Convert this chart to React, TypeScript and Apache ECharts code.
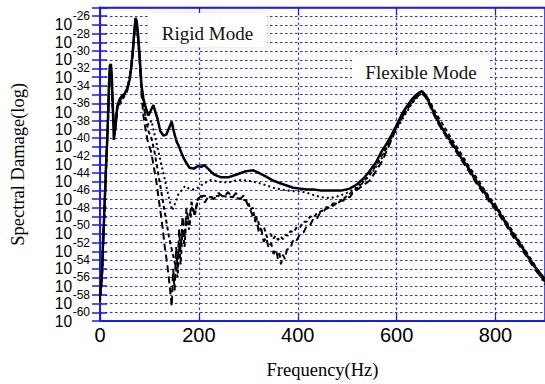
import React, { useEffect, useRef } from "react";
import * as echarts from "echarts";

// Frequency (Hz) and log10(Spectral Damage) for each curve
const solidFreq = [0, 2, 4, 6, 8, 10, 12, 14, 16, 18, 20, 22, 24, 26, 28, 31, 35, 40, 45, 50, 55, 60, 64, 67, 70, 72, 74, 77, 80, 84, 88, 93, 98, 103, 108, 112, 116, 122, 128, 134, 140, 145, 150, 155, 160, 166, 172, 181, 190, 198, 205, 211, 220, 231, 245, 259, 275, 295, 310, 321, 335, 351, 370, 391, 405, 419, 432, 445, 460, 475, 490, 505, 520, 535, 545, 558, 570, 580, 590, 600, 611, 620, 630, 638, 645, 651, 660, 671, 685, 700, 715, 731, 745, 760, 775, 790, 805, 820, 835, 850, 865, 880, 900];
const solidLog = [-57, -56, -54.5, -51, -48.5, -45.5, -42.5, -40, -37, -33, -30.7, -30.5, -32, -35.5, -39.2, -37.8, -35.3, -34.5, -34.1, -33.9, -33.3, -32.3, -30.5, -28.5, -26.3, -25.2, -25.5, -27, -29.5, -33, -34.5, -35.6, -36.4, -35.8, -35.2, -36, -36.7, -38.2, -38.7, -38.6, -37.8, -37.1, -38.4, -39.4, -40, -40.9, -41.6, -42.4, -42.5, -42.2, -42.3, -42.1, -42.6, -43.2, -43.5, -43.5, -43.2, -42.8, -42.7, -43, -43.4, -43.9, -44.3, -44.7, -44.8, -44.9, -44.9, -45, -45, -45, -45, -44.8, -44.3, -43.5, -42.8, -41.8, -40.5, -39.6, -38.6, -37.5, -36.2, -35.4, -34.6, -34.1, -33.8, -33.6, -34.2, -35.6, -37.2, -38.6, -39.8, -41.3, -42.4, -43.9, -45, -46.3, -47.3, -48.7, -50, -51.2, -52.6, -53.8, -55.2];

const dashAFreq = [0, 4, 8, 12, 16, 20, 22, 26, 30, 35, 45, 55, 62, 67, 70, 72, 75, 80, 84, 88, 92, 97, 103, 108, 114, 120, 126, 131, 136, 141, 145, 148, 151, 154, 157, 160, 163, 167, 171, 175, 180, 185, 191, 198, 205, 212, 220, 230, 240, 250, 259, 268, 275, 283, 291, 300, 306, 311, 316, 321, 326, 331, 336, 341, 346, 351, 356, 360, 363, 366, 370, 374, 378, 385, 390, 395, 405, 412, 418, 425, 431, 438, 445, 452, 458, 465, 471, 478, 485, 492, 498, 505, 511, 528, 545, 558, 571, 585, 598, 611, 625, 638, 651, 660, 671, 685, 700, 715, 731, 745, 760, 775, 790, 805, 820, 835, 850, 865, 880, 900];
const dashALog = [-57.5, -54.8, -48.8, -42.8, -37.2, -30.8, -30.5, -35.8, -38.5, -35.5, -34.3, -33.5, -31.4, -28.7, -26.6, -25.4, -26.4, -29.5, -34, -36.5, -38, -39.5, -40.5, -42, -44, -46.5, -49, -51.5, -53.5, -56, -58.3, -54, -56.5, -51.5, -54, -49.5, -52, -48, -50.5, -47, -49, -46.3, -47.8, -46, -45.6, -46.4, -45.6, -46, -45.3, -45.8, -45.2, -45.8, -45.3, -46, -45.6, -46.8, -47.5, -48.3, -48, -49.8, -49.4, -50.9, -50.4, -51.6, -51, -52.3, -51.8, -52.9, -52.2, -53.5, -52.4, -52.9, -51.8, -51.7, -50.8, -51, -50, -49.8, -49.1, -49, -48.3, -48.3, -47.6, -47.5, -46.9, -47, -46.5, -46.5, -46.1, -46.2, -45.7, -45.8, -45.3, -44.6, -43.9, -42.8, -41.6, -39.8, -38, -36.6, -35.3, -34.4, -33.8, -34.4, -35.8, -37.4, -38.8, -40.1, -41.5, -42.7, -44.1, -45.3, -46.5, -47.6, -48.9, -50.3, -51.5, -52.8, -54.1, -55.5];

const dashBFreq = [0, 4, 8, 12, 16, 20, 22, 26, 30, 35, 45, 55, 62, 67, 70, 72, 75, 80, 84, 88, 93, 98, 104, 110, 116, 122, 128, 134, 140, 146, 152, 157, 160, 163, 167, 171, 175, 180, 186, 192, 198, 210, 225, 240, 255, 271, 285, 299, 304, 309, 314, 319, 325, 332, 338, 345, 350, 355, 360, 365, 370, 375, 380, 385, 392, 398, 405, 411, 418, 425, 432, 439, 455, 470, 485, 500, 515, 530, 545, 560, 575, 590, 605, 620, 635, 648, 656, 665, 680, 695, 710, 725, 740, 755, 770, 785, 800, 815, 830, 845, 860, 875, 890, 900];
const dashBLog = [-57.8, -55, -49, -43, -37.5, -31, -30.8, -36, -38.3, -35.6, -34.6, -33.6, -31.6, -28.9, -26.8, -25.6, -26.6, -30, -33.5, -35, -37, -38.2, -39, -40.5, -42.5, -44.5, -46.5, -48.5, -50.5, -52, -53.5, -55, -51, -53.5, -49.5, -51.5, -48, -49.5, -46.8, -47.8, -46, -45.6, -45.8, -45.6, -45.7, -45.8, -46, -46.2, -47.2, -47, -48.6, -48.4, -49.6, -49.3, -50.4, -50, -50.6, -50.2, -50.7, -50.3, -50.6, -50.1, -50.2, -49.7, -49.8, -49.2, -49.2, -48.6, -48.6, -48, -48.1, -47.6, -47.2, -46.8, -46.3, -45.6, -45, -44.2, -43.2, -42, -40.5, -38.8, -37.2, -35.8, -34.6, -33.9, -33.9, -34.6, -36.2, -37.6, -39, -40.3, -41.7, -43, -44.3, -45.6, -46.7, -48, -49.3, -50.6, -51.9, -53.2, -54.6, -55.4];

const dotFreq = [0, 4, 8, 12, 16, 20, 22, 26, 30, 35, 45, 55, 62, 67, 70, 72, 75, 80, 84, 88, 93, 98, 104, 110, 116, 122, 128, 134, 140, 146, 152, 158, 165, 172, 180, 190, 198, 210, 225, 240, 259, 272, 285, 300, 318, 335, 351, 365, 379, 392, 405, 420, 435, 450, 465, 480, 495, 510, 525, 540, 555, 570, 585, 600, 615, 630, 642, 651, 662, 675, 690, 705, 720, 735, 750, 765, 780, 795, 810, 825, 840, 855, 870, 885, 900];
const dotLog = [-57.2, -54.6, -48.6, -42.6, -37.1, -30.7, -30.4, -35.6, -38.6, -35.4, -34.2, -33.4, -31.2, -28.6, -26.4, -25.3, -26.3, -29.8, -33, -35, -36.8, -37.5, -37, -38.5, -40, -41.5, -43, -44.5, -46, -47.3, -46.5, -45.5, -45, -44.5, -44.8, -44.9, -44.7, -44.2, -43.8, -44, -44.1, -43.9, -43.8, -43.9, -44.1, -44.4, -44.7, -44.9, -45, -45.1, -45.1, -45.3, -45.6, -45.8, -45.9, -45.7, -45.4, -45, -44.4, -43.6, -42.6, -41.3, -39.6, -38, -36.5, -35.1, -34.3, -33.8, -34.6, -35.9, -37.6, -39.1, -40.4, -41.7, -42.9, -44.1, -45.3, -46.4, -47.6, -49, -50.3, -51.5, -52.9, -54.3, -55.8];

const xTickValues = [0, 200, 400, 600, 800];
const yLabelExponents = [-26, -28, -30, -32, -34, -36, -38, -40, -42, -44, -46, -48, -50, -52, -54, -56, -58, -60];
const xMin = 0;
const xMax = 900;
const yMin = -60;
const yMax = -24;

const annotations = ["Rigid Mode", "Flexible Mode"];

const BLUE = "#1a1af0";
const GRID_BLUE = "#3030ee";

function zip(f: number[], v: number[]) {
  return f.map((x, i) => [x, v[i]]);
}

export default function App() {
  const ref = useRef<HTMLDivElement>(null);
  useEffect(() => {
    const chart = echarts.init(ref.current!, null, { renderer: "svg" });
    const isLabelled = (v: number) => yLabelExponents.indexOf(Math.round(v)) >= 0;
    const xFormatter = (v: number) => (xTickValues.indexOf(v) >= 0 ? String(v) : "");
    const splitLine = { show: true, lineStyle: { color: GRID_BLUE, width: 1.2, type: [2.5, 2.5] as any } };
    const lineSeries = (name: string, data: number[][], type: any, width: number) => ({
      name,
      type: "line",
      data,
      xAxisIndex: 0,
      yAxisIndex: 0,
      showSymbol: false,
      symbol: "none",
      z: 5,
      lineStyle: { color: "#000", width, type },
    });
    const boxText = (text: string, x: number, y: number) => ({
      type: "text",
      z: 4,
      x,
      y,
      style: {
        text,
        font: '19px "Liberation Serif"',
        fill: "#111",
        textAlign: "center",
        textVerticalAlign: "middle",
        align: "center",
        verticalAlign: "middle",
        shadowBlur: 3,
        shadowColor: "rgba(0,0,0,0.35)",
      },
    });
    chart.setOption({
      animation: false,
      backgroundColor: "#fff",
      grid: {
        left: 97.5,
        top: 7.5,
        right: -2,
        bottom: 59,
        show: true,
        borderColor: BLUE,
        borderWidth: 1.5,
        backgroundColor: "transparent",
      },
      xAxis: [
        {
          type: "value",
          min: xMin,
          max: xMax,
          interval: 200,
          position: "bottom",
          name: "Frequency(Hz)",
          nameLocation: "middle",
          nameGap: 39,
          nameTextStyle: { fontFamily: "Liberation Serif", fontSize: 18.5, color: "#000" },
          axisLine: { show: true, lineStyle: { color: BLUE, width: 2 } },
          axisTick: { show: true, inside: true, length: 8, lineStyle: { color: BLUE, width: 1.2 } },
          axisLabel: {
            formatter: xFormatter,
            showMaxLabel: false,
            margin: 4,
            fontFamily: "Liberation Sans",
            fontSize: 20,
            color: "#000",
          },
          splitLine,
        },
        {
          type: "value",
          min: xMin,
          max: xMax,
          interval: 200,
          position: "top",
          axisLine: { show: true, lineStyle: { color: BLUE, width: 1.5 } },
          axisTick: { show: true, inside: true, length: 8, lineStyle: { color: BLUE, width: 1.2 } },
          axisLabel: { show: false },
          splitLine: { show: false },
        },
      ],
      yAxis: [
        {
          // main axis: base "10" of each label
          type: "value",
          min: yMin,
          max: yMax,
          interval: 1,
          position: "left",
          name: "Spectral Damage(log)",
          nameLocation: "middle",
          nameGap: 73,
          nameRotate: 90,
          nameTextStyle: { fontFamily: "Liberation Serif", fontSize: 18.5, color: "#000" },
          axisLine: { show: true, lineStyle: { color: BLUE, width: 2 } },
          axisTick: { show: true, inside: true, length: 7, lineStyle: { color: BLUE, width: 1.5 } },
          axisLabel: {
            formatter: (v: number) => (isLabelled(v) ? "10" : ""),
            margin: 27.8,
            fontFamily: "Liberation Sans",
            fontSize: 15.6,
            color: "#000",
          },
          splitLine,
        },
        {
          type: "value",
          min: yMin,
          max: yMax,
          interval: 1,
          position: "right",
          axisLine: { show: true, lineStyle: { color: BLUE, width: 1.5 } },
          axisTick: { show: true, inside: true, length: 8, lineStyle: { color: BLUE, width: 1.5 } },
          axisLabel: { show: false },
          splitLine: { show: false },
        },
        {
          // exponent labels: same scale shifted up by one decade (superscript position)
          type: "value",
          min: yMin - 1,
          max: yMax - 1,
          interval: 1,
          position: "left",
          offset: 0,
          axisLine: { show: false },
          axisTick: { show: false },
          splitLine: { show: false },
          axisLabel: {
            formatter: (v: number) => (isLabelled(v) ? String(Math.round(v)) : ""),
            margin: 10,
            fontFamily: "Liberation Sans",
            fontSize: 12,
            color: "#000",
          },
        },
      ],
      graphic: [
        {
          type: "rect",
          z: 3,
          shape: { x: 148, y: 13, width: 119, height: 34 },
          style: { fill: "#fff", shadowBlur: 6, shadowColor: "rgba(0,0,0,0.12)" },
        },
        boxText(annotations[0], 207.5, 33),
        {
          type: "rect",
          z: 3,
          shape: { x: 352, y: 55, width: 138, height: 31 },
          style: { fill: "#fff", shadowBlur: 6, shadowColor: "rgba(0,0,0,0.12)" },
        },
        boxText(annotations[1], 421, 72),
      ],
      series: [
        lineSeries("dashA", zip(dashAFreq, dashALog), [7, 4], 2),
        lineSeries("dashB", zip(dashBFreq, dashBLog), [4, 3], 2),
        lineSeries("dotted", zip(dotFreq, dotLog), [2, 3], 2),
        lineSeries("solid", zip(solidFreq, solidLog), "solid", 2.5),
      ],
    });
    return () => chart.dispose();
  }, []);
  return (
    <div
      ref={ref}
      style={{ position: "fixed", left: 0, top: 0, width: 545, height: 384, background: "#fff" }}
    />
  );
}
